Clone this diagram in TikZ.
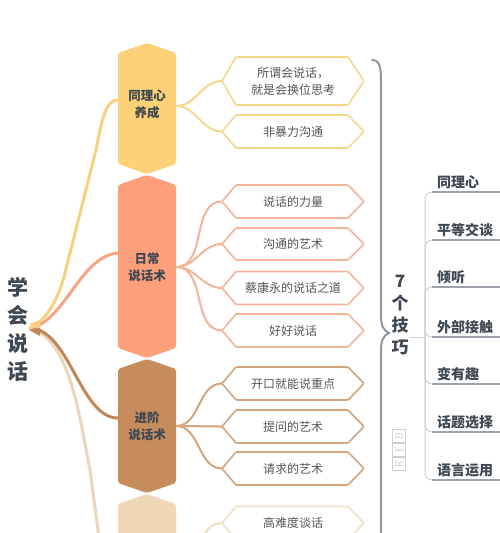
\documentclass[tikz,border=0pt]{standalone}
\usepackage{fontspec}
\setmainfont{Noto Sans CJK SC}
\definecolor{yeF}{HTML}{FDD177}
\definecolor{saF}{HTML}{FD9F7B}
\definecolor{brF}{HTML}{C68C5C}
\definecolor{beF}{HTML}{F0D7B8}
\definecolor{yeL}{HTML}{F9D07F}
\definecolor{saL}{HTML}{F8A584}
\definecolor{brL}{HTML}{BF875A}
\definecolor{beL}{HTML}{EBD5BB}
\definecolor{yeB}{HTML}{F6D88C}
\definecolor{saB}{HTML}{F4B497}
\definecolor{brB}{HTML}{D2A57E}
\definecolor{beB}{HTML}{F0DEC8}
\definecolor{txtdark}{HTML}{3F4852}
\definecolor{txtgray}{HTML}{565656}
\definecolor{bracegray}{HTML}{8E97A3}
\definecolor{ulgray}{HTML}{9CA3AD}
\definecolor{linkgray}{HTML}{CDD1D6}
\definecolor{wmgray}{HTML}{CFCFCF}
\newcommand\leafbox[5]{%
  \draw[leafline, draw=#4] (222,#2) -- (236,{#2-#3}) -- (348,{#2-#3}) -- (364,#2) -- (348,{#2+#3}) -- (236,{#2+#3}) -- cycle;
  \node[leaftext] (#1) at (293,#2) {#5};
  \coordinate (#1-w) at (222,#2);
}
\newcommand\mainhex[4]{% color, top, bottom, name
  \fill[#1, rounded corners=2pt] (147,#2) -- (176,{#2+10}) -- (176,{#3-10}) -- (147,#3) -- (118,{#3-10}) -- (118,{#2+10}) -- cycle;
}
\begin{document}
\begin{tikzpicture}[x=1pt,y=-1pt,
  maintext/.style={font=\bfseries\fontsize{12.5}{17}\selectfont, text=txtdark, align=center},
  leafline/.style={line width=1.6pt, fill=white, rounded corners=1pt},
  leaftext/.style={font=\fontsize{12}{17}\selectfont, text=txtgray, align=center},
  twig/.style={line width=2pt},
  branch/.style={line width=3pt, line cap=round},
  tipline/.style={line width=2.6pt, draw=ulgray},
  tiptext/.style={font=\bfseries\fontsize{14}{16}\selectfont, text=txtdark, anchor=west, inner sep=0pt},
  treelink/.style={line width=1pt, draw=linkgray, rounded corners=7pt},
  wmbox/.style={draw=wmgray, line width=0.9pt, text=wmgray, minimum size=12.5pt, inner sep=0pt, font=\fontsize{10}{10}\selectfont, rotate=90}
]
\useasboundingbox (0,0) rectangle (500,533);
\clip (0,0) rectangle (500,533);
\fill[white] (0,0) rectangle (500,533);

% root
\node[font=\bfseries\fontsize{21}{28}\selectfont, text=txtdark, align=center] (root) at (18,329) {学\\会\\说\\话};
\coordinate (rp) at (30,328);

% main hexagons
\mainhex{yeF}{43}{174}{h1}
\mainhex{saF}{175}{358}{h2}
\mainhex{brF}{359}{493}{h3}
\mainhex{beF}{494}{640}{h4}
\node[maintext] (h1) at (147,104) {同理心\\养成};
\node[maintext] (h2) at (147,267) {日常\\说话术};
\node[maintext] (h3) at (147,426) {进阶\\说话术};
\coordinate (h1-w) at (118,100);
\coordinate (h2-w) at (118,253);
\coordinate (h3-w) at (118,418);
\coordinate (h4-w) at (100,545);
\coordinate (h1-e) at (176,106);
\coordinate (h2-e) at (176,267);
\coordinate (h3-e) at (176,426);
\coordinate (h4-e) at (176,565);

% branches from root
\draw[branch, draw=beL] (rp) .. controls (70,338) and (80,420) .. (90,470) -- (h4-w);
\draw[branch, draw=brL] (rp) .. controls (70,330) and (80,418) .. (h3-w);
\draw[branch, draw=saL] (rp) .. controls (65,322) and (80,256) .. (h2-w);
\draw[branch, draw=yeL] (rp) .. controls (50,318) and (60,295) .. (67,265) -- (96,150) .. controls (102,118) and (106,100) .. (h1-w);
\fill[yeL] (29,324) -- (40,320) -- (40,330) -- cycle;
\fill[brL] (29,330) -- (40,328) -- (40,336) -- cycle;

% leaves
\leafbox{L1}{81}{24}{yeB}{所谓会说话，\\就是会换位思考}
\leafbox{L2}{131.5}{16.5}{yeB}{非暴力沟通}
\leafbox{S1}{201.5}{16.5}{saB}{说话的力量}
\leafbox{S2}{244}{16}{saB}{沟通的艺术}
\leafbox{S3}{288}{16.5}{saB}{蔡康永的说话之道}
\leafbox{S4}{330.5}{16.5}{saB}{好好说话}
\leafbox{B1}{383.5}{16.5}{brB}{开口就能说重点}
\leafbox{B2}{426.5}{16.5}{brB}{提问的艺术}
\leafbox{B3}{468.5}{16.5}{brB}{请求的艺术}
\leafbox{E1}{523}{16.5}{beB}{高难度谈话}

% twigs
\foreach \l in {L1,L2} \draw[twig, draw=yeB] (h1-e) to[out=0,in=180] (\l-w);
\foreach \l in {S1,S2,S3,S4} \draw[twig, draw=saB] (h2-e) to[out=0,in=180] (\l-w);
\foreach \l in {B1,B2,B3} \draw[twig, draw=brB] (h3-e) to[out=0,in=180] (\l-w);
\draw[twig, draw=beB] (h4-e) to[out=0,in=180] (E1-w);

% brace
\coordinate (btop) at (372,60);
\coordinate (btip) at (389,333);
\coordinate (bbot) at (381,545);
\draw[line width=2pt, draw=bracegray, line cap=round] (btop) .. controls (379,60) and (381,66) .. (381,80) -- (381,316) .. controls (381,326) and (384,331) .. (btip) .. controls (384,335) and (381,340) .. (381,350) -- (bbot);

% 7 tips
\node[font=\bfseries\fontsize{17}{22}\selectfont, text=txtdark, align=center, inner sep=1pt] (tips) at (400,315) {7\\个\\技\\巧};
\coordinate (hub) at (425,337);
\draw[line width=1pt, draw=linkgray] (tips.east |- hub) -- (hub);

% watermark
\node[wmbox] (wR) at (399,464) {R};
\node[wmbox] (wE) at (399,450) {E};
\node[wmbox] (wD) at (399,436) {D};

% right list
\foreach \n/\t/\y in {t1/同理心/192, t2/平等交谈/240, t3/倾听/287, t4/外部接触/337, t5/变有趣/384, t6/话题选择/432, t7/语言运用/480} {
  \coordinate (\n-s) at (432,\y);
  \coordinate (\n-e) at (510,\y);
  \draw[treelink] (hub) |- (\n-s);
  \draw[tipline] (\n-s) -- (\n-e);
  \node[tiptext] (\n) at (437,{\y-10}) {\t};
}
\end{tikzpicture}
\end{document}
